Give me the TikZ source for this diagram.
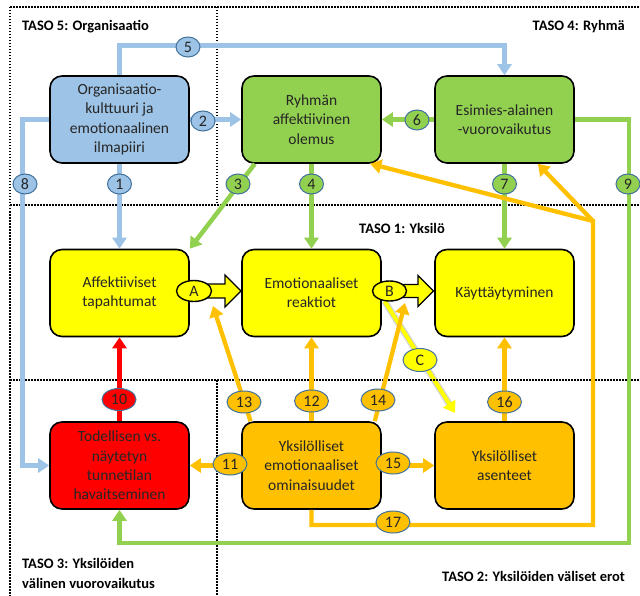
\documentclass[tikz,border=0pt]{standalone}
\usepackage{fontspec}
\setmainfont{Carlito}
\usetikzlibrary{shapes.geometric,arrows.meta}
\definecolor{cblue}{HTML}{9DC3E6}
\definecolor{cgreen}{HTML}{92D050}
\definecolor{cyel}{HTML}{FFFF00}
\definecolor{cred}{HTML}{FF0000}
\definecolor{corg}{HTML}{FFC000}
\definecolor{cbord}{HTML}{41719C}
\definecolor{ctext}{HTML}{262626}
\pgfdeclarelayer{bgl}
\pgfdeclarelayer{midl}
\pgfsetlayers{bgl,midl,main}
\begin{document}
\begin{tikzpicture}[x=1pt,y=-1pt,
  box/.style={draw=black, line width=1.6pt, rounded corners=12pt, minimum width=139pt, minimum height=87pt, align=center, inner sep=2pt, font=\fontsize{15.5}{19.3}\selectfont, text=ctext},
  num/.style={ellipse, draw=cbord, line width=1pt, minimum width=24pt, minimum height=20pt, inner sep=0pt, font=\fontsize{16}{16}\selectfont, text=ctext},
  numw/.style={num, minimum width=34pt, minimum height=22pt},
  lettr/.style={ellipse, draw=black, line width=1.4pt, fill=cyel, minimum width=35pt, minimum height=21pt, inner sep=0pt, font=\fontsize{16}{16}\selectfont, text=ctext},
  tip/.style={-{Triangle[length=11pt,width=14pt]}},
  bl/.style={cblue, line width=5pt},
  gr/.style={cgreen, line width=4.5pt},
  orl/.style={corg, line width=4.3pt},
  rl/.style={cred, line width=5pt},
  dots/.style={line width=1.5pt, dash pattern=on 1.5pt off 1.5pt},
  blk/.style={draw=black, fill=cyel, line width=1.3pt, line join=miter},
  taso/.style={font=\bfseries\fontsize{14.5}{20}\selectfont, inner sep=0pt, text=black}
]
\useasboundingbox (0,0) rectangle (640,596);
\begin{pgfonlayer}{bgl}
\fill[white] (0,0) rectangle (640,596);
\end{pgfonlayer}

% frames
\draw[dots] (10,7) -- (640,7);
\draw[dots] (10,7) -- (10,596);
\draw[dots] (217,7) -- (217,205);
\draw[dots] (10,205) -- (640,205);
\draw[dots] (10,380) -- (640,380);
\draw[dots] (217,380) -- (217,596);

% boxes
\node[box, fill=cblue] (org) at (119.5,119.5) {Organisaatio-\\kulttuuri ja\\emotionaalinen\\ilmapiiri};
\node[box, fill=cgreen] (ryh) at (311.5,119.5) {Ryhmän\\affektiivinen\\olemus};
\node[box, fill=cgreen] (esi) at (504.5,119.5) {Esimies-alainen\\-vuorovaikutus};
\node[box, fill=cyel] (aff) at (119.5,293) {Affektiiviset\\tapahtumat};
\node[box, fill=cyel] (emo) at (311.5,293) {Emotionaaliset\\reaktiot};
\node[box, fill=cyel] (kay) at (504.5,293) {Käyttäytyminen};
\node[box, fill=cred] (tod) at (119.5,465.5) {Todellisen vs.\\näytetyn\\tunnetilan\\havaitseminen};
\node[box, fill=corg] (yem) at (311.5,465.5) {Yksilölliset\\emotionaaliset\\ominaisuudet};
\node[box, fill=corg] (ase) at (504.5,465.5) {Yksilölliset\\asenteet};

% coordinates
\coordinate (g9) at (629,543);
\coordinate (j17b) at (593,525);
\coordinate (j17) at (593,221);
\coordinate (t13) at (213,306);
\coordinate (t14) at (405,303);
\coordinate (tc) at (455,413);

% blue connectors
\draw[bl, tip] (org.south) -- (aff.north);
\draw[bl, tip] (org.east) -- (ryh.west);
\draw[bl, tip] (org.north) -- ++(0,-29.5) -| (esi.north);
\draw[bl, tip] (org.west) -- ++(-26.5,0) |- (tod.west);

% green connectors
\draw[gr, tip] (ryh.-142.4) -- (aff.north east);
\draw[gr, tip] (ryh.south) -- (emo.north);
\draw[gr, tip] (esi.west) -- (ryh.east);
\draw[gr, tip] (esi.south) -- (kay.north);
\draw[gr, tip, line join=miter] (esi.east) -| (g9) -| (tod.south);

% red
\draw[rl, tip] (tod.north) -- (aff.south);

% orange
\draw[orl, tip] (yem.west) -- (tod.east);
\draw[orl, tip] (yem.north) -- (emo.south);
\draw[orl, tip] (yem.144.7) -- (t13);
\draw[orl, tip] (yem.35.7) -- (t14);
\draw[orl, tip] (yem.east) -- (ase.west);
\draw[orl, tip] (ase.north) -- (kay.south);
\draw[orl, tip, line join=miter] (yem.south) |- (j17b) -- (j17) -- (ryh.-37.6);
\draw[orl, tip] (j17) -- (esi.-53);

% block arrows
\draw[blk] (206,284) -- (225,284) -- (225,275) -- (241,291) -- (225,307) -- (225,298) -- (206,298) -- cycle;
\draw[blk] (400,284.5) -- (418,284.5) -- (418,275.5) -- (433.5,291) -- (418,306.5) -- (418,297.5) -- (400,297.5) -- cycle;

% letter nodes
\node[lettr] (A) at (194,291) {A};
\node[lettr, minimum width=34pt, minimum height=20pt] (B) at (389.5,291) {B};
\begin{pgfonlayer}{midl}
\draw[gray!35, line width=6.5pt, shorten >=10pt] (B.-115) -- (tc);
\draw[cyel, line width=4pt, tip] (B.-115) -- (tc);
\end{pgfonlayer}

% number labels
\node[num, fill=cblue] (n1) at (119.5,184) {1};
\node[num, fill=cblue] (n2) at (203,121) {2};
\node[num, fill=cblue] (n5) at (188,47) {5};
\node[num, fill=cblue] (n8) at (25,184) {8};
\node[num, fill=cgreen] (n3) at (238,184) {3};
\node[num, fill=cgreen] (n4) at (311.5,184) {4};
\node[num, fill=cgreen] (n6) at (417,120) {6};
\node[num, fill=cgreen] (n7) at (504.5,184) {7};
\node[num, fill=cgreen] (n9) at (628,184) {9};
\node[numw, fill=cred] (n10) at (119,399.5) {10};
\node[numw, fill=corg] (n11) at (230,464) {11};
\node[numw, fill=corg] (n12) at (311.5,401) {12};
\node[numw, fill=corg] (n13) at (244,402) {13};
\node[numw, fill=corg] (n14) at (378,400) {14};
\node[numw, fill=corg] (n15) at (393,463) {15};
\node[numw, fill=corg] (n16) at (504.5,402) {16};
\node[numw, fill=corg] (n17) at (393,522) {17};
\node[numw, fill=cyel, minimum height=23pt] (nC) at (420,360) {C};

% level titles
\node[taso, anchor=west] (t5) at (22,27) {TASO 5: Organisaatio};
\node[taso, anchor=east] (t4) at (625,27) {TASO 4: Ryhmä};
\node[taso] (t1) at (402,228) {TASO 1: Yksilö};
\node[taso, anchor=west, align=left] (t3) at (22,573) {TASO 3: Yksilöiden\\välinen vuorovaikutus};
\node[taso, anchor=east] (t2) at (625,576) {TASO 2: Yksilöiden väliset erot};
\end{tikzpicture}
\end{document}
